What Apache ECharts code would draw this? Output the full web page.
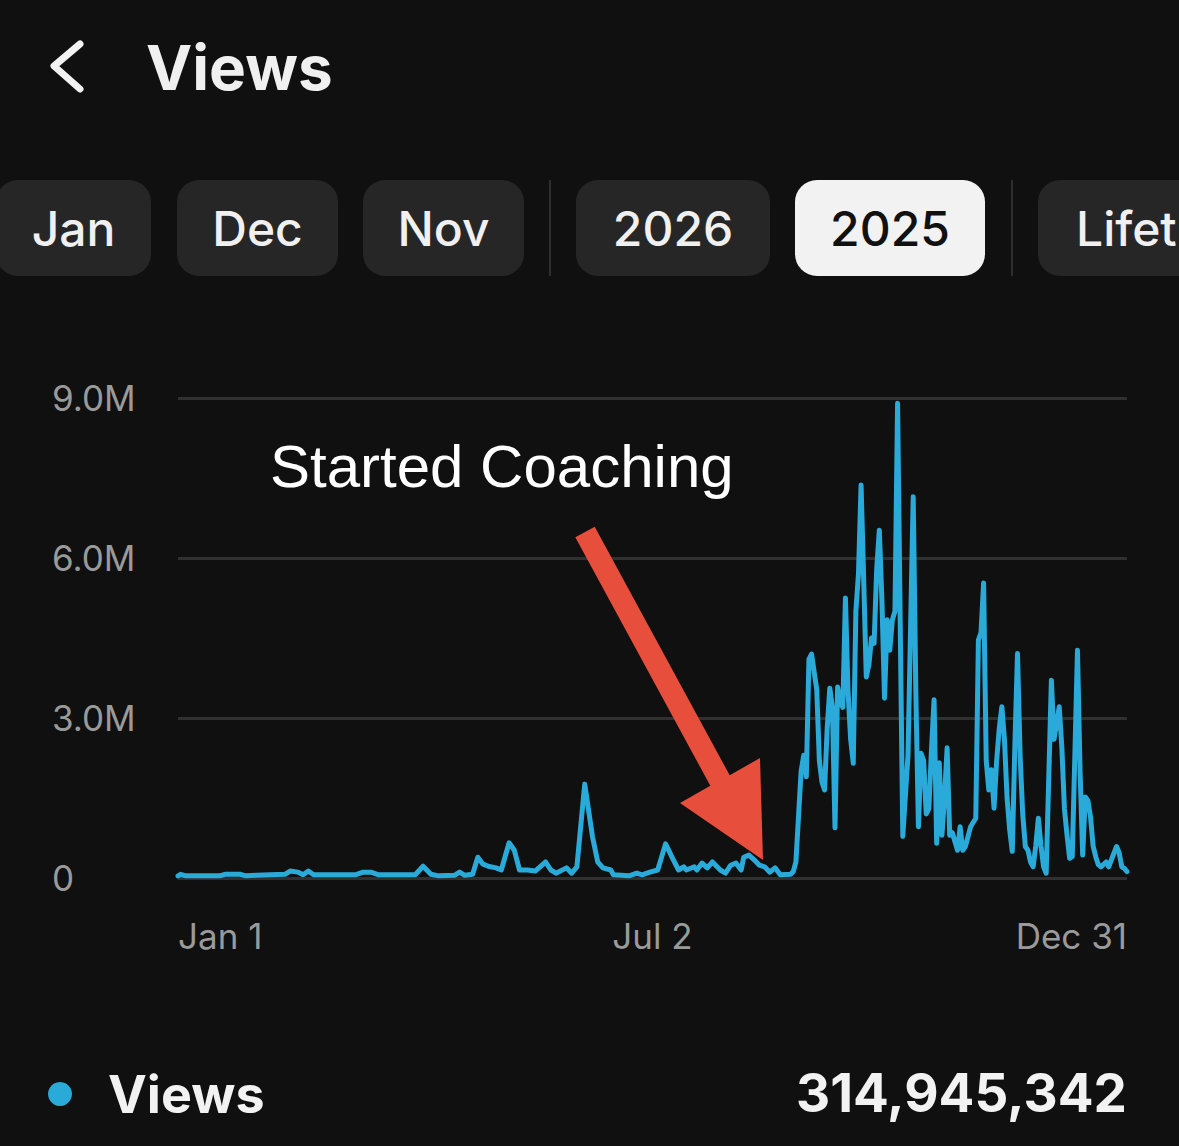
<!DOCTYPE html>
<html>
<head>
<meta charset="utf-8">
<script src="https://cdn.jsdelivr.net/npm/echarts@6/dist/echarts.min.js"></script>
<style>
html,body{margin:0;padding:0;background:#101010;}
#chart{width:1179px;height:1146px;}
</style>
</head>
<body>
<div id="chart"></div>
<script>
// ---- data ----
const dayOfYear = [0,1,3,16,18,24,26,30,41,43,46,48,50,52,68,71,74,77,91,94,97,100,106,108,110,113,115,117,119,122,124,127,129,131,134,137,141,143,145,149,151,153,156,159,161,163,166,167,173,176,178,181,184,187,190,192,194,195,198,199,201,203,205,208,210,212,214,216,217,219,221,223,225,227,229,231,235,236,237,239,240,241,242,243,245,246,247,248,249,250,251,252,253,254,255,256,257,258,259,260,261,262,263,264,265,266,267,268,269,270,271,272,273,274,275,276,278,280,282,283,284,285,286,287,288,289,290,291,292,293,294,295,296,297,299,300,301,302,304,306,307,308,309,310,311,312,313,314,315,316,317,318,319,320,321,322,323,324,325,326,327,328,329,330,331,332,333,334,335,336,337,338,339,340,341,342,343,344,345,346,347,348,349,350,351,352,353,354,356,357,358,360,361,362,363,364];
const viewsMillions = [0.04,0.07,0.04,0.04,0.07,0.07,0.04,0.05,0.07,0.13,0.11,0.06,0.13,0.06,0.06,0.11,0.11,0.06,0.06,0.22,0.07,0.04,0.05,0.11,0.05,0.07,0.39,0.26,0.22,0.19,0.15,0.66,0.52,0.15,0.15,0.13,0.30,0.15,0.09,0.19,0.09,0.21,1.76,0.77,0.30,0.19,0.15,0.06,0.04,0.09,0.06,0.11,0.15,0.64,0.34,0.15,0.21,0.15,0.21,0.15,0.28,0.19,0.30,0.15,0.09,0.24,0.28,0.15,0.39,0.43,0.34,0.24,0.21,0.11,0.19,0.06,0.07,0.12,0.30,2.0,2.3,1.9,4.1,4.2,3.53,2.2,1.8,1.65,2.8,3.56,3.2,0.94,3.58,3.3,3.2,5.25,3.5,2.6,2.15,5.0,5.7,7.37,5.6,3.77,4.0,4.5,4.4,5.8,6.52,5.2,3.37,4.84,4.27,4.84,5.0,8.9,0.78,2.3,7.15,3.5,0.96,2.34,2.2,1.2,1.3,2.4,3.34,0.65,2.16,0.8,1.5,2.44,0.8,0.85,0.52,0.96,0.52,0.59,0.96,1.12,4.46,4.6,5.53,2.2,1.65,2.03,1.31,2.2,2.8,3.21,2.6,1.5,0.9,0.5,2.5,4.21,2.3,1.2,0.59,0.52,0.3,0.21,0.6,1.12,0.6,0.21,0.09,1.9,3.71,2.6,2.9,3.21,2.46,1.3,0.8,0.37,0.4,2.3,4.27,2.0,0.43,1.52,1.45,1.15,0.6,0.4,0.25,0.21,0.3,0.21,0.34,0.59,0.47,0.21,0.18,0.12];
const xTickDays = [0,182,364];
const xTickLabels = ['Jan 1','Jul 2','Dec 31'];
const yTickValues = [0,3,6,9];
const yTickLabels = ['0','3.0M','6.0M','9.0M'];
const periodButtons = ['Jan','Dec','Nov','2026','2025','Lifetime'];
const selectedPeriod = '2025';
const seriesName = 'Views';
const totalViews = 314945342;
const annotationText = 'Started Coaching';

// ---- build ----
const seriesData = dayOfYear.map((d,i)=>[d, viewsMillions[i]]);
const lineColor = '#2aaad9';
const btnBoxes = [[-4,155],[177,161],[363,161],[576,194],[795,190],[1038,200]];
const graphics = [];
// back chevron
graphics.push({type:'polyline', z:100, shape:{points:[[80,44],[54,66],[80,89]]},
  style:{stroke:'#f2f2f2', lineWidth:7, lineCap:'round', lineJoin:'round', fill:null}});
graphics.push({type:'text', z:100, x:146, y:67, style:{text:'Views', fill:'#f0f0f0',
  font:'700 62px Inter', textVerticalAlign:'middle'}});
periodButtons.forEach((b,i)=>{
  const [x,w] = btnBoxes[i];
  const sel = b===selectedPeriod;
  graphics.push({type:'rect', z:100, shape:{x:x,y:180,width:w,height:96,r:22},
    style:{fill: sel ? '#f2f2f2' : '#262626'}});
  const isLast = i===periodButtons.length-1;
  graphics.push({type:'text', z:101, x: isLast ? 1076 : x + w/2, y:228,
    style:{text:b, fill: sel ? '#111111' : '#f0f0f0', font:'500 48px Inter',
      textAlign: isLast ? 'left' : 'center', textVerticalAlign:'middle'}});
});
// dividers
[550,1012].forEach(x=>graphics.push({type:'rect', z:100, shape:{x:x-1,y:180,width:2,height:96},
  style:{fill:'#2e2e2e'}}));
// annotation
graphics.push({type:'text', z:100, x:270, y:466, style:{text:annotationText, fill:'#ffffff',
  font:'400 60px "Liberation Sans", Arial, sans-serif', textVerticalAlign:'middle'}});
graphics.push({type:'polygon', z:100, shape:{points:[[575.3,537.2],[594.7,526.8],[729.7,775.3],[760,758],[763,860],[680,803],[710.3,785.7]]},
  style:{fill:'#e84e3c'}});
// total
graphics.push({type:'text', z:100, x:1127, y:1093, style:{text: totalViews.toLocaleString('en-US'),
  fill:'#f2f2f2', font:'700 53px Inter', textAlign:'right', textVerticalAlign:'middle'}});

const chart = echarts.init(document.getElementById('chart'), null, {renderer:'svg'});
chart.setOption({
  backgroundColor:'#101010',
  animation:false,
  grid:{left:178, right:52, top:398, bottom:268, containLabel:false},
  xAxis:{type:'value', min:0, max:364, interval:182,
    axisLine:{show:false}, axisTick:{show:false}, splitLine:{show:false},
    axisLabel:{color:'#9a9a9a', fontSize:35, fontFamily:'Inter', margin:40,
      showMinLabel:true, showMaxLabel:true, alignMinLabel:'left', alignMaxLabel:'right',
      formatter:(v)=>{const k=xTickDays.indexOf(v); return k>=0?xTickLabels[k]:'';}}},
  yAxis:{type:'value', min:0, max:9, interval:3,
    axisLine:{show:false}, axisTick:{show:false},
    splitLine:{show:true, lineStyle:{color:'#303030', width:3}},
    axisLabel:{color:'#9a9a9a', fontSize:35, fontFamily:'Inter', align:'left', margin:126,
      formatter:(v)=>{const k=yTickValues.indexOf(v); return k>=0?yTickLabels[k]:'';}}},
  legend:{show:true, left:43, top:1063, icon:'circle', itemWidth:24, itemHeight:24,
    textStyle:{color:'#f2f2f2', fontSize:52, fontWeight:700, fontFamily:'Inter', padding:[0,0,0,31]},
    data:[seriesName]},
  series:[{name:seriesName, type:'line', data:seriesData, showSymbol:false, symbol:'none',
    color:lineColor, lineStyle:{color:lineColor, width:5, join:'round', cap:'round'}, z:2}],
  graphic:graphics
});
</script>
</body>
</html>
